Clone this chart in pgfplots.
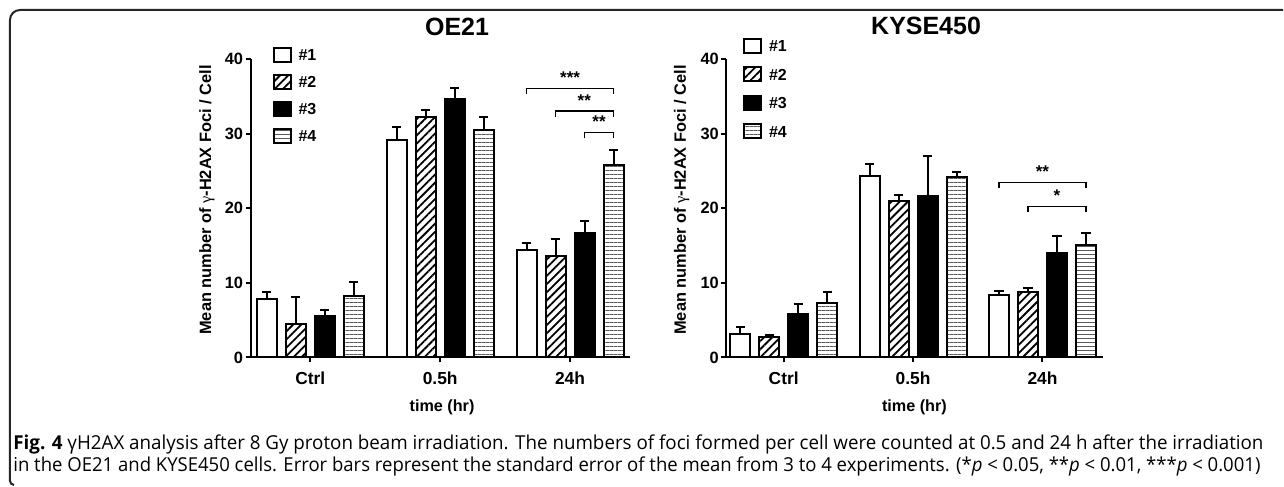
\documentclass[border=0pt]{standalone}
\usepackage{pgfplots}
\pgfplotsset{compat=1.18}
\usepackage{fontspec}
\setmainfont{Liberation Sans}
\newfontfamily\capfont{Open Sans}
\newfontfamily\gfont{Liberation Serif}
\usetikzlibrary{patterns.meta}
\usepackage{graphicx}

\tikzset{
  barA/.style={draw=black, line width=1bp, fill=white},
  barB/.style={draw=black, line width=1bp, pattern={Lines[angle=45,distance=2.9bp,line width=0.9bp]}, pattern color=black},
  barC/.style={draw=black, line width=1bp, fill=black},
  barD/.style={draw=black, line width=1bp, pattern={Lines[angle=0,distance=2bp,line width=0.5bp]}, pattern color=black!65},
  brk/.style={line width=0.75bp, black},
  star/.style={anchor=base, font=\fontsize{8.5bp}{9bp}\selectfont\bfseries, inner sep=0pt, yshift=2.5bp},
}
\pgfplotsset{
  prism/.style={
    scale only axis,
    height=149.2bp,
    ymin=0, ymax=40, ytick={0,10,20,30,40},
    xtick={0,1,2}, xticklabels={Ctrl,0.5h,24h},
    axis x line*=bottom, axis y line*=left,
    axis line style={line width=1bp, -},
    every tick/.style={line width=1bp, black},
    major tick length=2.5bp,
    tick align=outside,
    ybar=4.5bp, bar width=10bp,
    clip=false,
    /pgf/number format/assume math mode=true,
    yticklabel style={font=\fontsize{8.2bp}{9bp}\selectfont\bfseries, inner sep=1bp},
    xticklabel style={font=\fontsize{8.7bp}{9bp}\selectfont\bfseries, anchor=base, yshift=-11bp},
    xlabel={time (hr)},
    xlabel style={font=\fontsize{8.1bp}{9bp}\selectfont\bfseries, anchor=base},
    ylabel={Mean number of {\gfont\mdseries γ}-H2AX Foci / Cell},
    ylabel style={font=\fontsize{8.2bp}{9bp}\selectfont\bfseries, anchor=center},
    title style={font=\fontsize{12.5bp}{14bp}\selectfont\bfseries, anchor=base},
    error bars/y dir=plus, error bars/y explicit,
    error bars/error bar style={line width=1bp, black, solid},
    error bars/error mark options={line width=1bp, black, mark size=2.3bp, rotate=90},
    legend image code/.code={\draw[#1] (0bp,-3.5bp) rectangle (8.5bp,3.5bp);},
    legend cell align=left,
    legend style={draw=none, fill=none, inner sep=0pt, anchor=north west,
      font=\fontsize{8bp}{9bp}\selectfont\bfseries,
      nodes={inner sep=0.5bp, text height=6bp, text depth=0bp},
      column sep=3bp},
  }
}

\begin{document}
\begin{tikzpicture}
\path (0bp,0bp) rectangle (642bp,243.5bp);
% frame
\draw[line width=1bp, black!85] (642bp,238.5bp) -- (10bp,238.5bp) arc[start angle=90,end angle=180,radius=5bp] -- (5bp,3bp) to[out=-90,in=180] (7bp,0.8bp);

% ---------------- OE21 ----------------
\begin{axis}[prism, at={(125.35bp,64.65bp)}, anchor=south west,
  width=189.8bp, xmin=-0.46, xmax=2.46,
  title={OE21}, title style={at={(0.5445,1.038)}},
  xlabel style={at={(axis description cs:0.505,-0.181)}},
  ylabel style={at={(axis description cs:-0.115,0.528)}},
  legend style={at={(0.057,1.0436)}, row sep=5.5bp}]
\addplot[barA] coordinates {(0,7.83) +- (0,0.97) (1,29.2) +- (0,1.7) (2,14.44) +- (0,0.89)};
\addplot[barB] coordinates {(0,4.43) +- (0,3.62) (1,32.3) +- (0,0.95) (2,13.67) +- (0,2.2)};
\addplot[barC] coordinates {(0,5.55) +- (0,0.85) (1,34.7) +- (0,1.5) (2,16.7) +- (0,1.58)};
\addplot[barD] coordinates {(0,8.27) +- (0,1.88) (1,30.56) +- (0,1.71) (2,25.83) +- (0,1.97)};
\legend{\#1,\#2,\#3,\#4}
\draw[brk] (axis cs:1.665,35.3) -- (axis cs:1.665,36.1) -- (axis cs:2.335,36.1) -- (axis cs:2.335,35.3);
\node[star] at (axis cs:2.0,36.1) {***};
\draw[brk] (axis cs:1.888,32.25) -- (axis cs:1.888,33.05) -- (axis cs:2.335,33.05) -- (axis cs:2.335,32.25);
\node[star] at (axis cs:2.11,33.05) {**};
\draw[brk] (axis cs:2.112,29.4) -- (axis cs:2.112,30.2) -- (axis cs:2.335,30.2) -- (axis cs:2.335,29.4);
\node[star] at (axis cs:2.223,30.2) {**};
\end{axis}

% ---------------- KYSE450 ----------------
\begin{axis}[prism, at={(363.35bp,64.65bp)}, anchor=south west,
  width=188.4bp, xmin=-0.445, xmax=2.465,
  title={KYSE450}, title style={at={(0.531,1.042)}},
  xlabel style={at={(axis description cs:0.5,-0.181)}},
  ylabel style={at={(axis description cs:-0.118,0.528)}},
  legend style={at={(0.044,1.074)}, row sep=6.3bp}]
\addplot[barA] coordinates {(0,3.18) +- (0,0.89) (1,24.36) +- (0,1.56) (2,8.31) +- (0,0.54)};
\addplot[barB] coordinates {(0,2.68) +- (0,0.32) (1,21.0) +- (0,0.8) (2,8.77) +- (0,0.48)};
\addplot[barC] coordinates {(0,5.8) +- (0,1.4) (1,21.68) +- (0,5.32) (2,14.03) +- (0,2.24)};
\addplot[barD] coordinates {(0,7.24) +- (0,1.53) (1,24.26) +- (0,0.64) (2,15.1) +- (0,1.57)};
\legend{\#1,\#2,\#3,\#4}
\draw[brk] (axis cs:1.664,22.7) -- (axis cs:1.664,23.46) -- (axis cs:2.336,23.46) -- (axis cs:2.336,22.7);
\node[star] at (axis cs:2.0,23.46) {**};
\draw[brk] (axis cs:1.888,19.5) -- (axis cs:1.888,20.24) -- (axis cs:2.336,20.24) -- (axis cs:2.336,19.5);
\node[star] at (axis cs:2.112,20.24) {*};
\end{axis}

% caption
\node[anchor=base west, inner sep=0pt] at (6.5bp,18.7bp) {\resizebox{625.5bp}{\height}{\capfont\fontsize{9.6bp}{10bp}\selectfont\textbf{Fig. 4} γH2AX analysis after 8 Gy proton beam irradiation. The numbers of foci formed per cell were counted at 0.5 and 24 h after the irradiation}};
\node[anchor=base west, inner sep=0pt] at (6.5bp,7.6bp) {\resizebox{624bp}{\height}{\capfont\fontsize{9.6bp}{10bp}\selectfont in the OE21 and KYSE450 cells. Error bars represent the standard error of the mean from 3 to 4 experiments. (*\textit{p} < 0.05, **\textit{p} < 0.01, ***\textit{p} < 0.001)}};
\end{tikzpicture}
\end{document}
